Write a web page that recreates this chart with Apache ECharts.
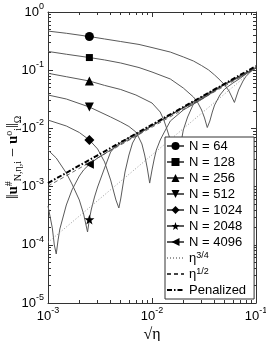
<!DOCTYPE html>
<html><head><meta charset="utf-8">
<script src="https://cdn.jsdelivr.net/npm/echarts@6/dist/echarts.min.js"></script>
<style>html,body{margin:0;padding:0;background:#fff}#c{width:266px;height:341px}</style>
</head><body><div id="c"></div>
<script>
// ---- data (x = sqrt(eta), y = error norm) ----
const MARK_X = 0.0025;
const n64 = [[0.001,0.47],[0.0015,0.431],[0.0025,0.379],[0.0035,0.344],[0.005,0.311],[0.0075,0.277],[0.01,0.245],[0.015,0.205],[0.02,0.169],[0.025,0.144],[0.03,0.120],[0.035,0.101],[0.04,0.0827],[0.045,0.0679],[0.05,0.0557],[0.055,0.0439],[0.058,0.036],[0.062,0.0279],[0.065,0.036],[0.068,0.0457],[0.075,0.0652],[0.08,0.078],[0.09,0.0969],[0.1,0.111]];
const n128 = [[0.001,0.21],[0.0015,0.188],[0.0025,0.165],[0.0035,0.150],[0.005,0.133],[0.0075,0.111],[0.01,0.0931],[0.015,0.0706],[0.02,0.0494],[0.025,0.0347],[0.027,0.0296],[0.03,0.0207],[0.032,0.0151],[0.034,0.01035],[0.036,0.0134],[0.038,0.0191],[0.04,0.0252],[0.045,0.0375],[0.05,0.0475],[0.06,0.0603],[0.07,0.072],[0.08,0.0861],[0.1,0.109]];
const n256 = [[0.001,0.0885],[0.0015,0.0773],[0.0025,0.0652],[0.0035,0.0548],[0.005,0.0466],[0.007,0.0375],[0.01,0.0273],[0.012,0.0191],[0.013,0.0139],[0.014,0.0094],[0.015,0.00632],[0.016,0.00349],[0.017,0.00158],[0.018,0.0031],[0.019,0.00561],[0.02,0.0094],[0.022,0.0157],[0.025,0.0262],[0.03,0.0333],[0.04,0.0457],[0.05,0.0568],[0.07,0.0764],[0.1,0.109]];
const n512 = [[0.001,0.0375],[0.0015,0.032],[0.0025,0.0233],[0.004,0.0157],[0.005,0.0129],[0.006,0.0108],[0.007,0.00867],[0.0075,0.00684],[0.008,0.0054],[0.0085,0.00349],[0.009,0.00209],[0.0095,0.00115],[0.01,0.00193],[0.0105,0.00298],[0.011,0.00425],[0.012,0.00632],[0.013,0.00834],[0.015,0.0134],[0.02,0.0207],[0.03,0.0314],[0.05,0.0568],[0.1,0.109]];
const n1024 = [[0.001,0.0139],[0.0015,0.011],[0.002,0.00851],[0.0025,0.00632],[0.003,0.00443],[0.0035,0.00265],[0.004,0.0013],[0.0045,0.000589],[0.0048,0.000429],[0.005,0.000612],[0.0055,0.00178],[0.006,0.00349],[0.0065,0.00561],[0.007,0.00711],[0.008,0.00867],[0.01,0.011],[0.015,0.0167],[0.02,0.0224],[0.03,0.032],[0.05,0.0579],[0.1,0.111]];
const n2048 = [[0.001,0.00425],[0.0012,0.0031],[0.0015,0.00171],[0.0017,0.00111],[0.002,0.000589],[0.0022,0.000338],[0.0024,0.000166],[0.0025,0.000272],[0.0026,0.000396],[0.0028,0.000662],[0.003,0.000984],[0.0035,0.00209],[0.004,0.00393],[0.0045,0.00499],[0.005,0.00573],[0.006,0.00698],[0.008,0.00902],[0.01,0.0112],[0.02,0.0229],[0.05,0.0579],[0.1,0.111]];
const n4096 = [[0.001,0.000464],[0.0011,0.000195],[0.00115,0.0000993],[0.0012,0.0000695],[0.00125,0.000121],[0.0013,0.000187],[0.0015,0.000483],[0.0017,0.000875],[0.002,0.00152],[0.0022,0.00193],[0.0025,0.00242],[0.003,0.0031],[0.004,0.00425],[0.005,0.0054],[0.007,0.00755],[0.01,0.0112],[0.02,0.0229],[0.05,0.0579],[0.1,0.111]];
const eta34 = [[0.001,0.00011],[0.01,0.0035],[0.1,0.111]];
const eta12 = [[0.001,0.00102],[0.01,0.0105],[0.1,0.108]];
const penalized = [[0.001,0.00115],[0.003,0.00345],[0.01,0.0116],[0.03,0.035],[0.1,0.118]];

const xMajor = [0.001, 0.01, 0.1];
const yMajor = [0.00001, 0.0001, 0.001, 0.01, 0.1, 1];
const mult = [2,3,4,5,6,7,8,9];
const xMinor = [0.001, 0.01].flatMap(d => mult.map(k => +(k*d).toPrecision(3)));
const yMinor = [0.00001, 0.0001, 0.001, 0.01, 0.1].flatMap(d => mult.map(k => +(k*d).toPrecision(3)));

const AX = '#333';
const supFmt = v => '{b|10}{s|' + Math.round(Math.log10(v)) + '}';
const labRich = {
  b: {fontSize: 13, fontFamily: 'Liberation Sans', color: '#000', lineHeight: 20, verticalAlign: 'middle'},
  s: {fontSize: 9, fontFamily: 'Liberation Sans', color: '#000', lineHeight: 8, verticalAlign: 'top'}
};

function xAx(pos, major, labels) {
  return {
    type: 'log', logBase: 10, min: 0.001, max: 0.1, position: pos, gridIndex: 0,
    axisLine: {show: major, onZero: false, lineStyle: {color: AX, width: 1}},
    axisTick: {show: true, inside: true, length: major ? 5 : 3, lineStyle: {color: AX, width: 1}, customValues: major ? xMajor : xMinor},
    axisLabel: labels ? {show: true, customValues: xMajor, margin: 3, formatter: supFmt, rich: labRich} : {show: false},
    splitLine: {show: false}, minorTick: {show: false}, axisPointer: {show: false}
  };
}
function yAx(pos, major, labels) {
  return {
    type: 'log', logBase: 10, min: 0.00001, max: 1, position: pos, gridIndex: 0,
    axisLine: {show: major, onZero: false, lineStyle: {color: AX, width: 1}},
    axisTick: {show: true, inside: true, length: major ? 5 : 3, lineStyle: {color: AX, width: 1}, customValues: major ? yMajor : yMinor},
    axisLabel: labels ? {show: true, customValues: yMajor, margin: 4, formatter: supFmt, rich: labRich} : {show: false},
    splitLine: {show: false}, minorTick: {show: false}
  };
}

const xAxes = [xAx('bottom', true, true), xAx('bottom', false, false), xAx('top', true, false), xAx('top', false, false)];
xAxes[0].name = '√η';
xAxes[0].nameLocation = 'middle';
xAxes[0].nameGap = 24;
xAxes[0].nameMoveOverlap = false;
xAxes[0].nameTextStyle = {fontFamily: 'Liberation Serif', fontSize: 16, color: '#000'};

const yAxes = [yAx('left', true, true), yAx('left', false, false), yAx('right', true, false), yAx('right', false, false)];
yAxes[0].name = '‖{bu|u}{sp|#}{sb|N,η,i} − {bu|u}{sp|o}{sb|i}‖{sb|Ω}';
yAxes[0].nameLocation = 'middle';
yAxes[0].nameGap = 25;
yAxes[0].nameMoveOverlap = false;
yAxes[0].nameTextStyle = {
  fontFamily: 'Liberation Serif', fontSize: 16, color: '#000', lineHeight: 19,
  rich: {
    bu: {fontFamily: 'Liberation Serif', fontSize: 15, fontWeight: 'bold', color: '#000', lineHeight: 19},
    sp: {fontFamily: 'Liberation Serif', fontSize: 10, color: '#000', lineHeight: 9, verticalAlign: 'top'},
    sb: {fontFamily: 'Liberation Serif', fontSize: 10, color: '#000', lineHeight: 9, verticalAlign: 'bottom'}
  }
};

const STAR = 'path://M0,-10L2.35,-3.24L9.51,-3.09L3.8,1.24L5.88,8.09L0,4L-5.88,8.09L-3.8,1.24L-9.51,-3.09L-2.35,-3.24Z';

function curve(name, data, symbol, size, rotate) {
  return {
    name, type: 'line', xAxisIndex: 0, yAxisIndex: 0,
    data: data.map(p => ({value: p, symbol: p[0] === MARK_X ? symbol : 'none'})),
    symbol, symbolSize: size, symbolRotate: rotate || 0, showSymbol: true, showAllSymbol: true,
    itemStyle: {color: '#000'}, lineStyle: {color: '#5a5a5a', width: 1},
    emphasis: {disabled: true}, silent: true, z: 2
  };
}
function refLine(name, data, color, width, type, z) {
  return {
    name, type: 'line', xAxisIndex: 0, yAxisIndex: 0, data, symbol: 'none', showSymbol: false,
    itemStyle: {color}, lineStyle: {color, width, type},
    emphasis: {disabled: true}, silent: true, z
  };
}

const series = [
  curve('N = 64', n64, 'circle', 9),
  curve('N = 128', n128, 'rect', 7),
  curve('N = 256', n256, 'triangle', 9),
  curve('N = 512', n512, 'triangle', 9, 180),
  curve('N = 1024', n1024, 'diamond', 10),
  curve('N = 2048', n2048, STAR, 10),
  curve('N = 4096', n4096, 'triangle', 9, 90),
  refLine('eta34', eta34, '#9a9a9a', 1, [1, 2], 3),
  refLine('eta12', eta12, '#444', 0.8, [4, 3], 4),
  refLine('Penalized', penalized, '#000', 2, [5, 2, 1.5, 2], 5)
];

const noSym = {opacity: 0};
const chart = echarts.init(document.getElementById('c'), null, {renderer: 'canvas'});
chart.setOption({
  animation: false,
  backgroundColor: '#fff',
  textStyle: {fontFamily: 'Liberation Sans'},
  grid: {left: 48, right: 10, top: 12, bottom: 38, containLabel: false, outerBoundsMode: 'none'},
  xAxis: xAxes,
  yAxis: yAxes,
  legend: {
    orient: 'vertical', left: 165, top: 137,
    backgroundColor: '#fff', borderColor: '#333', borderWidth: 1, borderRadius: 0,
    padding: [2, 8, 2, 1], itemGap: 2, itemWidth: 17, itemHeight: 10,
    selectedMode: false,
    textStyle: {
      fontSize: 13, fontFamily: 'Liberation Sans', color: '#000', lineHeight: 14,
      rich: {
        e: {fontSize: 13, fontFamily: 'Liberation Sans', color: '#000', lineHeight: 14},
        s: {fontSize: 9, fontFamily: 'Liberation Sans', color: '#000', lineHeight: 8, verticalAlign: 'top'}
      }
    },
    formatter: n => n === 'eta34' ? '{e|η}{s|3/4}' : n === 'eta12' ? '{e|η}{s|1/2}' : n,
    data: ['N = 64','N = 128','N = 256','N = 512','N = 1024','N = 2048','N = 4096',
      {name: 'eta34', itemStyle: noSym}, {name: 'eta12', itemStyle: noSym}, {name: 'Penalized', itemStyle: noSym}]
  },
  series
});
</script></body></html>
